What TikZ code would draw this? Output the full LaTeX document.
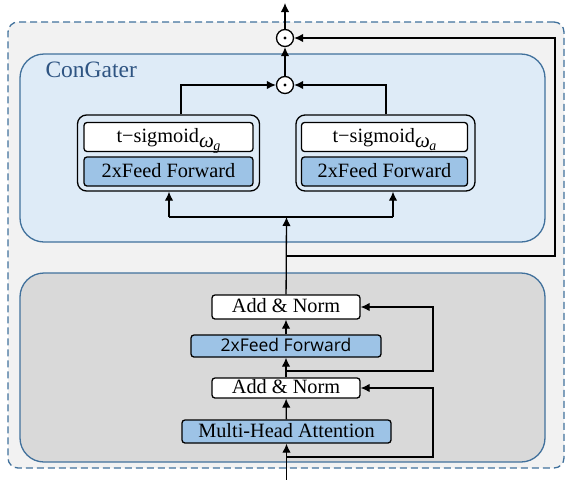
\documentclass[tikz,border=0pt]{standalone}
\usepackage{fontspec}
\setmainfont{Liberation Serif}
\newfontfamily\ffsans{Open Sans}
\usepackage{tikz}
\usetikzlibrary{arrows.meta, shapes}
\definecolor{frameblue}{RGB}{65,113,156}
\definecolor{titleblue}{RGB}{46,84,130}
\definecolor{outerfill}{RGB}{242,242,242}
\definecolor{gatefill}{RGB}{222,235,247}
\definecolor{encfill}{RGB}{217,217,217}
\definecolor{ffblue}{RGB}{157,195,230}
\newcommand{\wsub}[1]{\raisebox{-5pt}{\fontsize{21}{21}\selectfont\itshape ω\kern-0.5pt\raisebox{-3pt}{\fontsize{14}{14}\selectfont #1}}}

\tikzset{
	block/.style={rectangle, rounded corners=3pt, draw, line width=1.3pt, inner sep=0pt,
		text height=14pt, text depth=3pt, font=\fontsize{20.3}{21}\selectfont},
	whitebox/.style={block, fill=white},
	bluebox/.style={block, fill=ffblue},
	frame/.style={rectangle, draw=frameblue, line width=1.3pt, rounded corners=24pt},
	gate/.style={circle, draw, line width=1.3pt, fill=white, minimum size=17pt, inner sep=0pt},
	conn/.style={line width=1.3pt, -{Latex[length=9pt,width=8.5pt]}},
	wire/.style={line width=1.3pt}
}

\begin{document}
\begin{tikzpicture}[x=1pt, y=-1pt]
		\useasboundingbox (0,0) rectangle (566,480);
		% frames
		\node at (286,245) [rectangle, draw=frameblue, line width=1.3pt, dash pattern=on 7pt off 4pt, rounded corners=10pt, fill=outerfill, minimum width=556pt, minimum height=446pt] (outer) {};
		\node at (282.5,148) [frame, fill=gatefill, minimum width=525pt, minimum height=188pt] (congater) {};
		\node at (282.5,367.5) [frame, fill=encfill, minimum width=525pt, minimum height=189pt] (encoder) {};
		\node at (42,70) [anchor=west, text=titleblue, font=\fontsize{23.5}{24}\selectfont] (title) {ConGater};
		% gates
		\node at (285,38) [gate] (gout) {};
		\node at (285,85) [gate] (gmix) {};
		\fill (gout.center) circle (1.7pt);
		\fill (gmix.center) circle (1.7pt);
		\node at (168.5,153) [rectangle, draw, line width=1.3pt, rounded corners=9pt, minimum width=182pt, minimum height=76pt] (modg) {};
		\node at (168.5,137) [whitebox, minimum width=169pt, minimum height=29pt] (sigg) {t−sigmoid\wsub{g}};
		\node at (168.5,171.5) [bluebox, minimum width=169pt, minimum height=29pt] (ffg) {2xFeed Forward};
		\node at (385.5,153) [rectangle, draw, line width=1.3pt, rounded corners=9pt, minimum width=179pt, minimum height=76pt] (moda) {};
		\node at (384.5,137) [whitebox, minimum width=166pt, minimum height=29pt] (siga) {t−sigmoid\wsub{a}};
		\node at (384.5,171.5) [bluebox, minimum width=166pt, minimum height=29pt] (ffa) {2xFeed Forward};
		% encoder layer
		\node at (286,307) [whitebox, minimum width=148pt, minimum height=24pt] (addtop) {Add \& Norm};
		\node at (286,346) [bluebox, font=\ffsans\fontsize{17.5}{18}\selectfont, minimum width=190pt, minimum height=22pt] (fflow) {2xFeed Forward};
		\node at (286,388) [whitebox, minimum width=148pt, minimum height=20pt] (addlow) {Add \& Norm};
		\node at (286.5,431.5) [bluebox, minimum width=209pt, minimum height=23pt] (mha) {Multi-Head Attention};
		% free ends
		\coordinate (out) at (285,3);
		\coordinate (in) at (286.5,480);
		\coordinate (split) at (286.5,217);
		\coordinate (fanl) at (169,217);
		\coordinate (fanr) at (393,217);
		\coordinate (tap) at (286.5,256);
		\coordinate (byp) at (555,256);
		\coordinate (skipa) at (286.5,457);
		\coordinate (skipar) at (433,457);
		\coordinate (skipb) at (286.5,371);
		\coordinate (skipbr) at (433,371);
		% connectors
		\draw[conn] (gout) -- (out);
		\draw[conn] (gmix) -- (gout);
		\draw[conn] ([xshift=12.5pt]modg.north) |- (gmix.west);
		\draw[conn] ([xshift=0.5pt]moda.north) |- (gmix.east);
		\draw[wire] (fanl) -- (fanr);
		\draw[conn] (fanl) -- (fanl |- modg.south);
		\draw[conn] (fanr) -- (fanr |- moda.south);
		\draw[conn] (addtop) -- (split);
		\draw[conn] (tap) -- (byp) |- (gout.east);
		\draw[conn] (in) -- (mha);
		\draw[conn] (mha) -- (addlow);
		\draw[conn] (addlow) -- (fflow);
		\draw[conn] (fflow) -- (addtop);
		\draw[conn] (skipa) -- (skipar) |- (addlow.east);
		\draw[conn] (skipb) -- (skipbr) |- (addtop.east);
\end{tikzpicture}
\end{document}
